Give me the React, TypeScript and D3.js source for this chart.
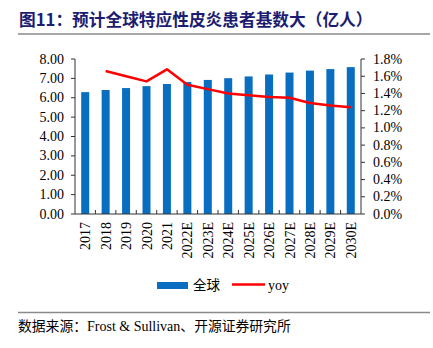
import React from "react";
import * as d3 from "d3";

const categories = ["2017","2018","2019","2020","2021","2022E","2023E","2024E","2025E","2026E","2027E","2028E","2029E","2030E"];
const globalValues = [6.29,6.40,6.50,6.60,6.71,6.81,6.92,7.01,7.10,7.20,7.30,7.40,7.48,7.58];
const yoyValues: (number|null)[] = [null,0.0166,0.0160,0.0154,0.0168,0.0150,0.0145,0.0140,0.0138,0.0136,0.0135,0.0129,0.0126,0.0124];
const leftTicks = [0,1,2,3,4,5,6,7,8];
const rightTicks = [0,0.002,0.004,0.006,0.008,0.010,0.012,0.014,0.016,0.018];

const W = 433, H = 348;
const left = 75, right = 361, top = 59, bottom = 214;
const serif = "'Liberation Serif', 'Times New Roman', serif";
const cjk = "'Noto Sans CJK SC', sans-serif";

export default function App() {
  const xb = d3.scaleBand<string>().domain(categories).range([left, right]);
  const yL = d3.scaleLinear().domain([0, 8]).range([bottom, top]);
  const yR = d3.scaleLinear().domain([0, 0.018]).range([bottom, top]);
  const line = d3.line<number|null>()
    .defined(d => d != null)
    .x((_, i) => (xb(categories[i]) as number) + xb.bandwidth() / 2)
    .y(d => yR(d as number));
  const tickColor = "#333";
  return (
    <svg width={W} height={H} style={{ position: "absolute", left: 0, top: 0, background: "#fff" }}>
      <text x={19} y={26} fontFamily={cjk} fontWeight="bold" fontSize={16.7} fill="#1c1c72">图11：预计全球特应性皮炎患者基数大（亿人）</text>
      <line x1={18} x2={430} y1={34} y2={34} stroke="#8a8a8a" strokeWidth={1.5} />
      {categories.map((c, i) => (
        <rect key={c} x={(xb(c) as number) + xb.bandwidth() / 2 - 4} y={yL(globalValues[i])} width={8} height={bottom - yL(globalValues[i])} fill="#0a6ec0" />
      ))}
      <path d={line(yoyValues) || ""} fill="none" stroke="#ff0000" strokeWidth={2.5} strokeLinejoin="round" />
      <line x1={left} x2={left} y1={top} y2={bottom} stroke={tickColor} strokeWidth={1} />
      {leftTicks.map(t => (
        <g key={t}>
          <line x1={left - 4} x2={left} y1={yL(t)} y2={yL(t)} stroke={tickColor} />
          <text x={left - 11} y={yL(t) + 4.5} textAnchor="end" fontFamily={serif} fontSize={14} fill="#000">{t.toFixed(2)}</text>
        </g>
      ))}
      <line x1={right} x2={right} y1={top} y2={bottom} stroke={tickColor} strokeWidth={1} />
      {rightTicks.map(t => (
        <g key={t}>
          <line x1={right} x2={right + 4} y1={yR(t)} y2={yR(t)} stroke={tickColor} />
          <text x={right + 12} y={yR(t) + 4.5} textAnchor="start" fontFamily={serif} fontSize={14} fill="#000">{(t * 100).toFixed(1)}%</text>
        </g>
      ))}
      <line x1={left} x2={right} y1={bottom} y2={bottom} stroke={tickColor} strokeWidth={1} />
      {categories.map((c, i) => (
        <g key={c}>
          {i > 0 && <line x1={xb(c) as number} x2={xb(c) as number} y1={bottom} y2={bottom - 4} stroke={tickColor} />}
          <text transform={`translate(${(xb(c) as number) + xb.bandwidth() / 2 + 5},${222}) rotate(-90)`} textAnchor="end" fontFamily={serif} fontSize={14} fill="#000">{c}</text>
        </g>
      ))}
      <rect x={157} y={282} width={31} height={7} fill="#0a6ec0" />
      <text x={193} y={290} fontFamily={cjk} fontSize={13.5} fill="#000">全球</text>
      <line x1={232} x2={265} y1={284.5} y2={284.5} stroke="#ff0000" strokeWidth={2.5} />
      <text x={268} y={290} fontFamily={serif} fontSize={14} fill="#000">yoy</text>
      <line x1={18} x2={430} y1={312.5} y2={312.5} stroke="#8a8a8a" strokeWidth={1.5} />
      <text x={18} y={331} fontFamily={serif} fontSize={14} fill="#000">
        <tspan fontFamily={cjk} fontSize={13.8}>数据来源：</tspan>Frost &amp; Sullivan<tspan fontFamily={cjk} fontSize={13.8}>、开源证券研究所</tspan>
      </text>
    </svg>
  );
}
